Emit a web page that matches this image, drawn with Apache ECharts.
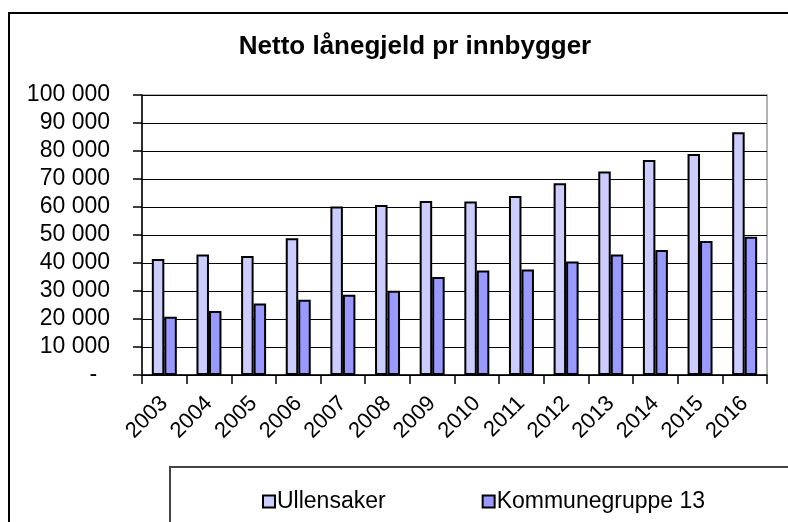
<!DOCTYPE html>
<html>
<head>
<meta charset="utf-8">
<script src="https://cdn.jsdelivr.net/npm/echarts@6/dist/echarts.min.js"></script>
<style>
    html, body { margin: 0; padding: 0; background: #fff; }
    #chart { width: 788px; height: 522px; }
</style>
</head>
<body>
<div id="chart"></div>
<script>
// år
var years = ['2003', '2004', '2005', '2006', '2007', '2008', '2009', '2010', '2011', '2012', '2013', '2014', '2015', '2016'];
// Ullensaker
var ullensaker = [41400, 43000, 42500, 48800, 60200, 60700, 62100, 62000, 63900, 68500, 72700, 76800, 78900, 86700];
// Kommunegruppe 13
var kommunegruppe = [20800, 22900, 25500, 26900, 28700, 30100, 35000, 37300, 37700, 40500, 43000, 44600, 47900, 49400];

var font = '"Liberation Sans", Arial, sans-serif';

function fmt(v) {
    if (v === 0) return '-  ';
    return String(v).replace(/\B(?=(\d{3})+(?!\d))/g, ' ');
}

var chart = echarts.init(document.getElementById('chart'));
var option = {
    animation: false,
    backgroundColor: '#fff',
    title: {
        text: 'Netto lånegjeld pr innbygger',
        left: 410,
        textAlign: 'center',
        top: 29,
        textStyle: { fontFamily: font, fontSize: 26, fontWeight: 'bold', color: '#000' }
    },
    graphic: [
        {   // ytre ramme
            type: 'rect',
            shape: { x: 9, y: 13, width: 800, height: 520 },
            style: { fill: 'none', stroke: '#000', lineWidth: 2 }
        },
        {   // legend-boks
            type: 'rect',
            shape: { x: 170, y: 467, width: 640, height: 80 },
            style: { fill: 'none', stroke: '#444', lineWidth: 2 }
        }
    ],
    legend: {
        left: 257,
        top: 485,
        itemWidth: 12,
        itemHeight: 12,
        itemGap: 96,
        icon: 'rect',
        itemStyle: { borderColor: '#000', borderWidth: 2 },
        textStyle: { fontFamily: font, fontSize: 23, color: '#000', padding: [0, 0, 0, -3] },
        data: ['Ullensaker', 'Kommunegruppe 13']
    },
    grid: {
        left: 142,
        top: 95,
        width: 625,
        height: 280,
        show: true,
        borderColor: '#999',
        borderWidth: 1.5,
        containLabel: false
    },
    xAxis: {
        type: 'category',
        data: years,
        axisLine: { lineStyle: { color: '#000', width: 1.5 } },
        axisTick: { show: true, length: 9, lineStyle: { color: '#000', width: 1.5 } },
        axisLabel: {
            rotate: 45,
            margin: 25,
            fontFamily: font,
            fontSize: 22,
            color: '#000',
            interval: 0
        }
    },
    yAxis: {
        type: 'value',
        min: 0,
        max: 100000,
        interval: 10000,
        axisLine: { show: true, lineStyle: { color: '#000', width: 1.5 } },
        axisTick: { show: true, length: 9, lineStyle: { color: '#000', width: 1.5 } },
        splitLine: { show: true, lineStyle: { color: '#000', width: 1.2 } },
        axisLabel: {
            margin: 32,
            fontFamily: font,
            fontSize: 23,
            color: '#000',
            formatter: fmt
        }
    },
    series: [
        {
            name: 'Ullensaker',
            type: 'bar',
            data: ullensaker,
            barGap: '0%',
            barCategoryGap: '44%',
            itemStyle: { color: '#CCCCFF', borderColor: '#000', borderWidth: 2 }
        },
        {
            name: 'Kommunegruppe 13',
            type: 'bar',
            data: kommunegruppe,
            itemStyle: { color: '#9999FF', borderColor: '#000', borderWidth: 2 }
        }
    ]
};
chart.setOption(option);
</script>
</body>
</html>
